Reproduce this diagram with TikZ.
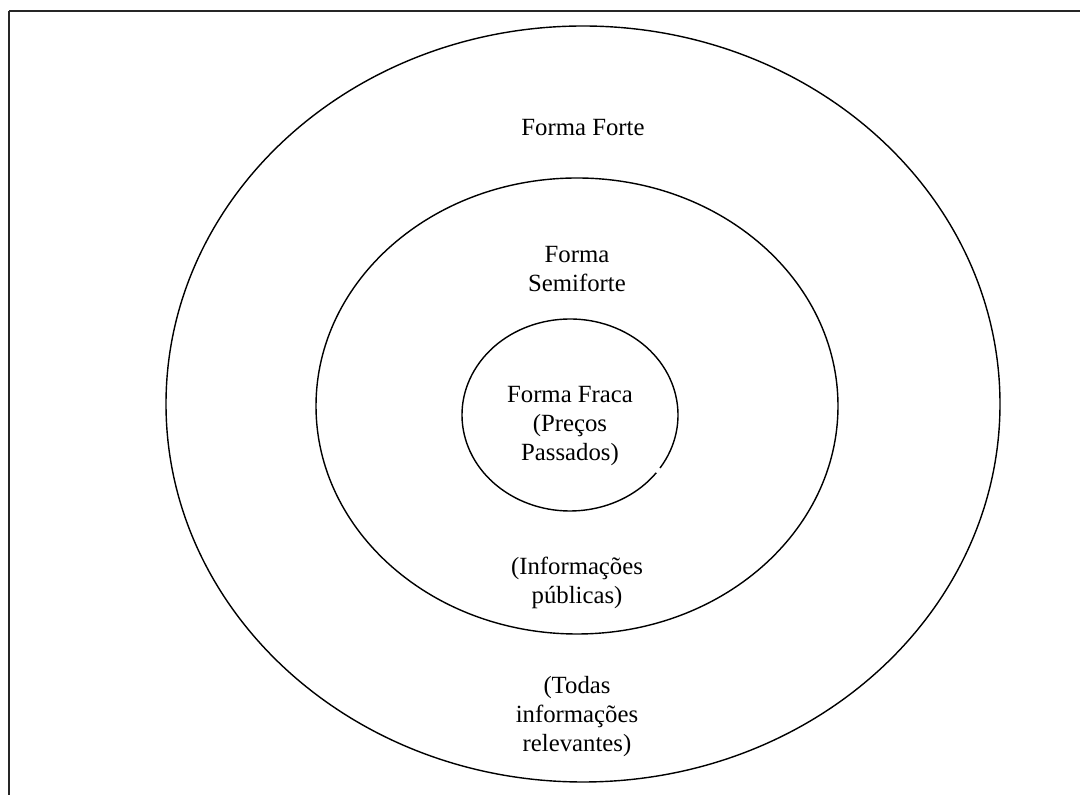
\documentclass[tikz,border=0pt]{standalone}
\usepackage{fontspec}
\setmainfont{Liberation Serif}
\usepackage{tikz}
\usetikzlibrary{calc}

\begin{document}
\begin{tikzpicture}
[x=0.025cm,y=0.025cm,
  ringdecorate/.style={line width=1pt},
  framedecorate/.style={line width=1.3pt,draw=black!85},
  labeldecorate/.style={align=center,inner sep=0pt,
    font=\fontsize{17.6}{20.6}\selectfont}]
\useasboundingbox (0,0) rectangle (1080,795);
%% frame
\draw[framedecorate] (9,784) -- (1100,784);
\draw[framedecorate] (9,784) -- (9,-20);
%% rings
\foreach \ringname/\x/\y/\rx/\ry in {outer/583/391/417/378, middle/577/389/261/228}
{
  \draw[ringdecorate] (\x,\y) ellipse ({\rx} and {\ry});
}
%% inner ring, with its small break
\draw[ringdecorate] (570,380) ++(-33.5:108 and 96)
  arc[start angle=-33.5, end angle=323, x radius=108, y radius=96];
%% labels
\node[labeldecorate] (forte) at (583,667) {Forma Forte};
\node[labeldecorate] (semiforte) at (577,526) {Forma\\Semiforte};
\node[labeldecorate] (fraca) at (570,369) {Forma Fraca\\(Preços\\Passados)};
\node[labeldecorate] (publicas) at (577,212) {(Informações\\públicas)};
\node[labeldecorate] (todas) at (577,78) {(Todas\\informações\\relevantes)};
\end{tikzpicture}
\end{document}
